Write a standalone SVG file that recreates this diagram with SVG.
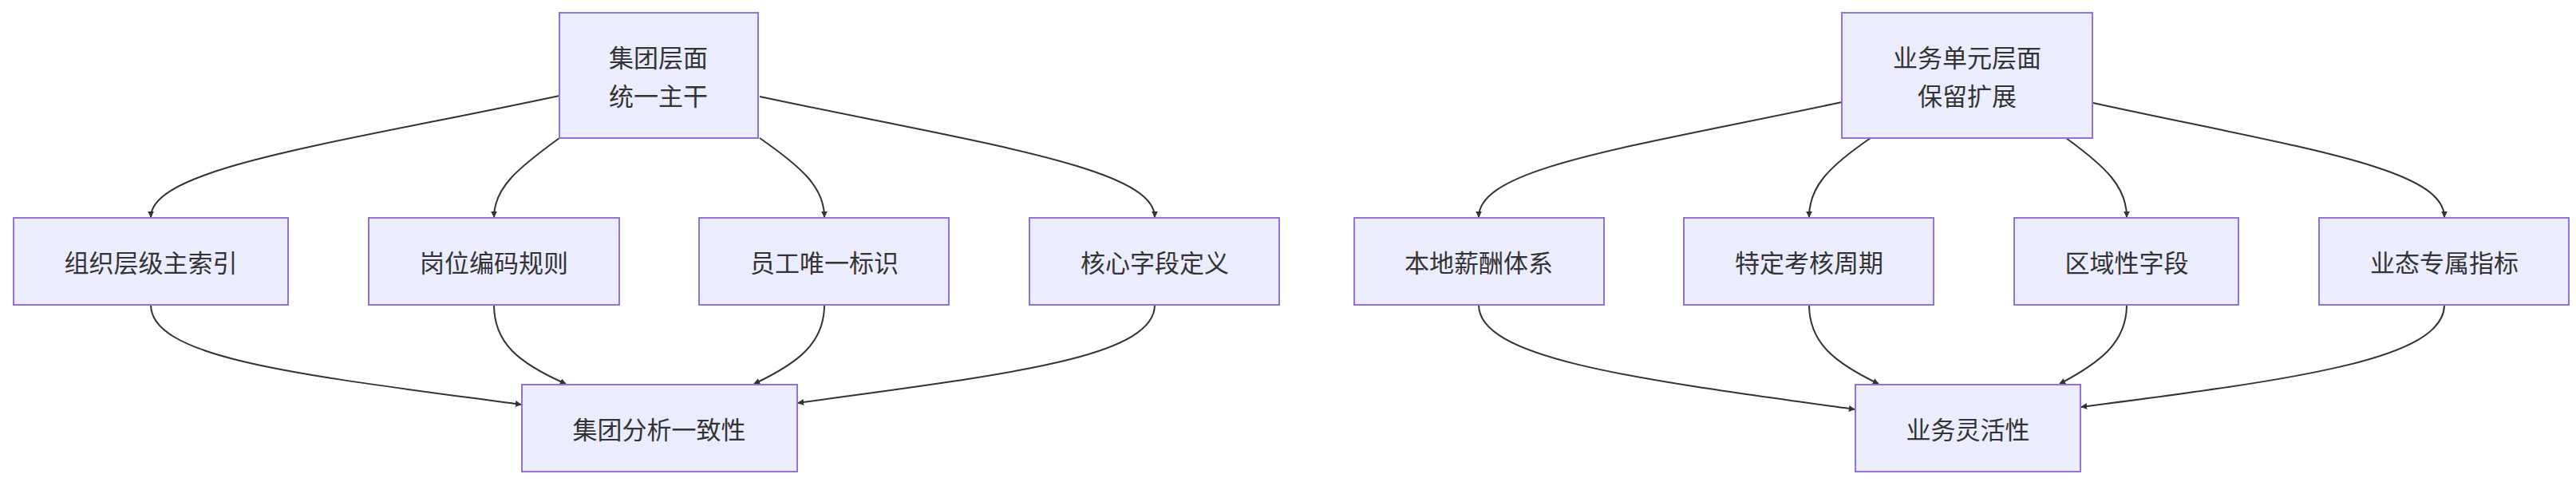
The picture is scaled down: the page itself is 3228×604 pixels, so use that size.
<svg xmlns="http://www.w3.org/2000/svg" width="3228" height="604" viewBox="0 0 3228 604">
<style>
.n rect{fill:#ECECFF;stroke:#9370DB;stroke-width:2}
.n text{font-family:"Noto Sans CJK SC","Liberation Sans",sans-serif;font-size:31px;fill:#333;text-anchor:middle;dominant-baseline:central}
.e path{fill:none;stroke:#333;stroke-width:2;marker-end:url(#a)}
</style>
<defs><marker id="a" viewBox="0 0 10 10" refX="9" refY="5" markerWidth="8" markerHeight="8" markerUnits="userSpaceOnUse" orient="auto"><path d="M0,0L10,5L0,10z" fill="#333"/></marker></defs>
<rect width="3228" height="604" fill="#fff"/>
<g class="e">
<path d="M701,120 C420,180 189,210 189,272"/>
<path d="M701,173 C650,210 619,235 619,272"/>
<path d="M952,173 C1005,210 1033,235 1033,272"/>
<path d="M952,121 C1230,180 1447,210 1447,272"/>
<path d="M189,382 C189,450 380,470 653,507"/>
<path d="M619,382 C619,430 650,455 709,481"/>
<path d="M1033,382 C1033,430 1000,455 945,481"/>
<path d="M1447,382 C1447,450 1250,470 1000,505"/>
<path d="M2308,128 C2040,185 1853,210 1853,272"/>
<path d="M2344,173 C2290,210 2267,235 2267,272"/>
<path d="M2589,173 C2640,210 2665,235 2665,272"/>
<path d="M2623,129 C2880,185 3063,210 3063,272"/>
<path d="M1853,382 C1853,450 2050,475 2324,513"/>
<path d="M2267,382 C2267,430 2300,455 2354,481"/>
<path d="M2665,382 C2665,430 2630,455 2581,481"/>
<path d="M3063,382 C3063,450 2880,475 2608,510"/>
</g>
<g class="n" id="g1"><rect x="701" y="16" width="249" height="157"/><text x="825" y="70">集团层面</text><text x="825" y="118">统一主干</text></g>
<g class="n" id="g2"><rect x="17" y="273" width="344" height="109"/><text x="189" y="327">组织层级主索引</text></g>
<g class="n" id="g3"><rect x="462" y="273" width="314" height="109"/><text x="619" y="327">岗位编码规则</text></g>
<g class="n" id="g4"><rect x="876" y="273" width="313" height="109"/><text x="1033" y="327">员工唯一标识</text></g>
<g class="n" id="g5"><rect x="1290" y="273" width="313" height="109"/><text x="1447" y="327">核心字段定义</text></g>
<g class="n" id="g6"><rect x="654" y="482" width="345" height="109"/><text x="826" y="536">集团分析一致性</text></g>
<g class="n" id="b1"><rect x="2308" y="16" width="314" height="157"/><text x="2465" y="70">业务单元层面</text><text x="2465" y="118">保留扩展</text></g>
<g class="n" id="b2"><rect x="1697" y="273" width="313" height="109"/><text x="1853" y="327">本地薪酬体系</text></g>
<g class="n" id="b3"><rect x="2110" y="273" width="313" height="109"/><text x="2267" y="327">特定考核周期</text></g>
<g class="n" id="b4"><rect x="2524" y="273" width="281" height="109"/><text x="2665" y="327">区域性字段</text></g>
<g class="n" id="b5"><rect x="2906" y="273" width="313" height="109"/><text x="3063" y="327">业态专属指标</text></g>
<g class="n" id="b6"><rect x="2325" y="482" width="282" height="109"/><text x="2466" y="536">业务灵活性</text></g>
</svg>
